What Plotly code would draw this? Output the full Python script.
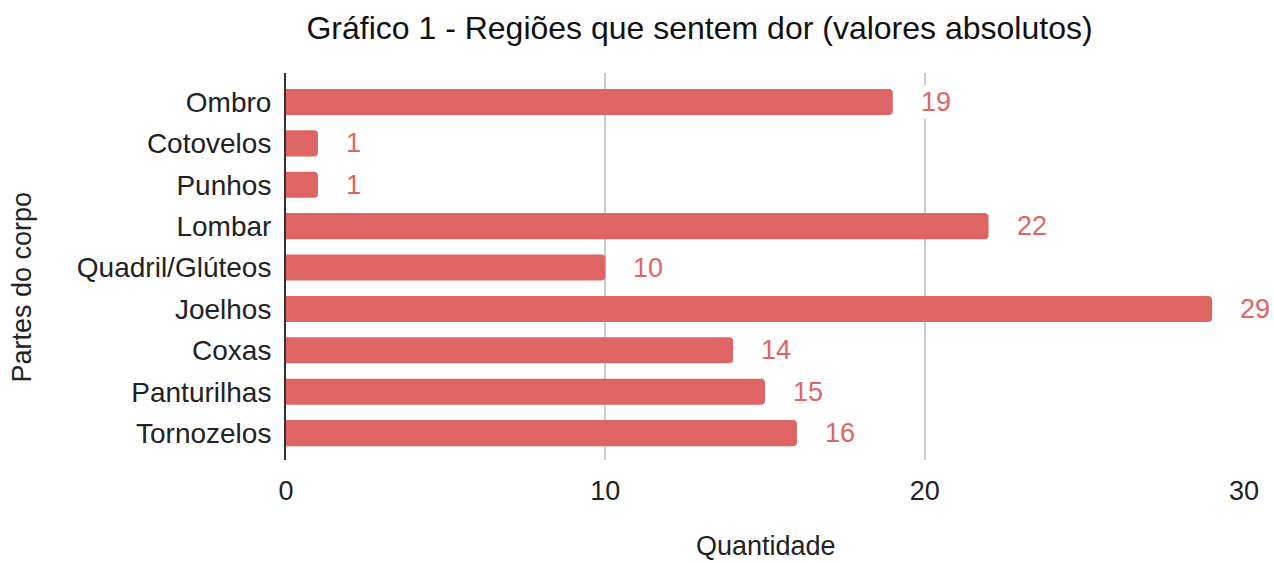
import plotly.graph_objects as go

categories = ["Ombro", "Cotovelos", "Punhos", "Lombar", "Quadril/Glúteos",
              "Joelhos", "Coxas", "Panturilhas", "Tornozelos"]
values = [19, 1, 1, 22, 10, 29, 14, 15, 16]
x_ticks = [0, 10, 20, 30]

title_text = "Gráfico 1 - Regiões que sentem dor (valores absolutos)"
x_title = "Quantidade"
y_title = "Partes do corpo"

BAR = "#df6565"
FONT = "Liberation Sans, Arial, sans-serif"

fig = go.Figure()
fig.add_trace(go.Bar(
    x=values, y=categories, orientation="h",
    marker=dict(color=BAR, cornerradius=4, line=dict(width=0)),
    hoverinfo="x+y",
))

for c, v in zip(categories, values):
    fig.add_annotation(x=v, y=c, xref="x", yref="y", text=str(v),
                       showarrow=False, xanchor="left", yanchor="middle",
                       xshift=26, font=dict(size=27, color=BAR, family=FONT),
                       bgcolor="white", borderpad=1)

fig.add_annotation(x=0.5, y=-(546 - 460) / 387, xref="paper", yref="paper", text=x_title,
                   showarrow=False, xanchor="center", yanchor="middle", borderpad=0,
                   font=dict(size=27, color="#222222", family=FONT))
fig.add_annotation(x=-0.2753, y=0.448, xref="paper", yref="paper", text=y_title,
                   showarrow=False, xanchor="center", yanchor="middle", textangle=-90,
                   borderpad=0,
                   font=dict(size=27, color="#222222", family=FONT))

fig.update_layout(
    width=1274, height=563,
    margin=dict(l=286, r=29, t=73, b=103),
    paper_bgcolor="white", plot_bgcolor="white",
    bargap=0.37,
    showlegend=False,
    font=dict(family=FONT, color="#222222"),
    title=dict(text=title_text, x=699.5 / 1274, xanchor="center", xref="container",
               y=1 - 28 / 563, yanchor="middle", yref="container",
               font=dict(size=32, color="#111111", family=FONT)),
    xaxis=dict(range=[0, 30.03], tickvals=x_ticks, ticktext=[str(t) for t in x_ticks],
               showgrid=True, gridcolor="#cccccc", gridwidth=2,
               zeroline=False, showline=False, ticks="",
               ticklabelstandoff=12,
               tickfont=dict(size=27, color="#222222", family=FONT)),
    yaxis=dict(type="category", categoryorder="array", categoryarray=categories,
               range=[8.65, -0.70], showgrid=False, zeroline=False,
               showline=True, linecolor="#333333", linewidth=2, ticks="",
               ticklabelstandoff=7,
               tickfont=dict(size=28, color="#222222", family=FONT)),
)

fig.write_html("out.html", config={"displayModeBar": False},
               post_script="document.body.style.margin='0';document.body.style.overflow='hidden';")
